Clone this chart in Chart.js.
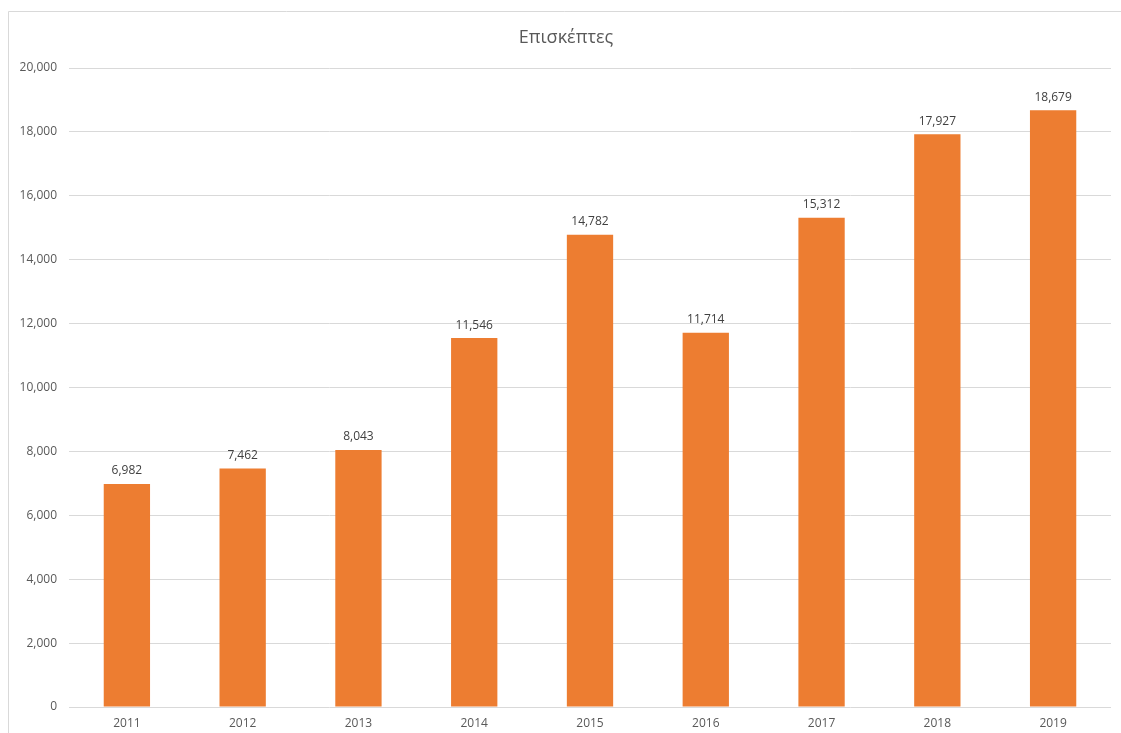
<!DOCTYPE html>
<html>
<head>
<meta charset="utf-8">
<script src="https://cdn.jsdelivr.net/npm/chart.js@4"></script>
<style>
  html, body { margin: 0; padding: 0; background: #fff; }
  #wrap { position: relative; width: 1121px; height: 733px; }
</style>
</head>
<body>
<div id="wrap"><canvas id="myChart" width="1121" height="733"></canvas></div>
<script>
// visitors per year
const years = ["2011", "2012", "2013", "2014", "2015", "2016", "2017", "2018", "2019"];
const visitors = [6982, 7462, 8043, 11546, 14782, 11714, 15312, 17927, 18679];
const yTicks = [0, 2000, 4000, 6000, 8000, 10000, 12000, 14000, 16000, 18000, 20000];
const titleText = "Επισκέπτες";

const fontFamily = "'Open Sans', 'Noto Sans', sans-serif";

// frame around the chart + title text
const framePlugin = {
    id: "frame",
    beforeDraw(chart) {
        const ctx = chart.ctx;
        ctx.save();
        ctx.fillStyle = "#fff";
        ctx.fillRect(0, 0, chart.width, chart.height);
        ctx.strokeStyle = "#d9d9d9";
        ctx.lineWidth = 1;
        ctx.beginPath();
        ctx.moveTo(8.5, chart.height);
        ctx.lineTo(8.5, 11.5);
        ctx.lineTo(chart.width, 11.5);
        ctx.stroke();
        ctx.restore();
    },
    afterDraw(chart) {
        const ctx = chart.ctx;
        ctx.save();
        ctx.fillStyle = "#595959";
        ctx.font = "18px " + fontFamily;
        ctx.textAlign = "center";
        ctx.textBaseline = "middle";
        ctx.fillText(titleText, 566, 38);
        ctx.restore();
    }
};

// value labels above each bar
const valueLabels = {
    id: "valueLabels",
    afterDatasetsDraw(chart) {
        const ctx = chart.ctx;
        const meta = chart.getDatasetMeta(0);
        ctx.save();
        ctx.fillStyle = "#404040";
        ctx.font = "12px " + fontFamily;
        ctx.textAlign = "center";
        ctx.textBaseline = "bottom";
        meta.data.forEach((bar, i) => {
            ctx.fillText(visitors[i].toLocaleString("en-US"), bar.x, bar.y - 7);
        });
        ctx.restore();
    }
};

const myChartRef = document.getElementById("myChart").getContext("2d");
new Chart(myChartRef, {
    type: "bar",
    data: {
        labels: years,
        datasets: [{
            label: titleText,
            data: visitors,
            backgroundColor: "#ED7D31",
            borderWidth: 0,
            categoryPercentage: 1,
            barPercentage: 0.4
        }]
    },
    options: {
        responsive: false,
        animation: false,
        layout: { padding: { top: 68, right: 10, left: 0, bottom: 0 } },
        plugins: {
            legend: { display: false },
            tooltip: { enabled: false },
            title: { display: false }
        },
        scales: {
            x: {
                grid: { display: false, drawTicks: false },
                border: { display: false },
                ticks: { color: "#595959", font: { family: fontFamily, size: 12 }, padding: 9 },
                afterFit(scale) { scale.height = 26; }
            },
            y: {
                min: 0,
                max: 20000,
                afterBuildTicks(scale) { scale.ticks = yTicks.map(v => ({ value: v })); },
                grid: { color: "#d9d9d9", drawTicks: false, lineWidth: 1 },
                border: { display: false },
                ticks: {
                    color: "#595959",
                    font: { family: fontFamily, size: 12 },
                    padding: 12,
                    callback: v => v.toLocaleString("en-US")
                },
                afterFit(scale) { scale.width = 69; }
            }
        }
    },
    plugins: [framePlugin, valueLabels]
});
</script>
</body>
</html>
